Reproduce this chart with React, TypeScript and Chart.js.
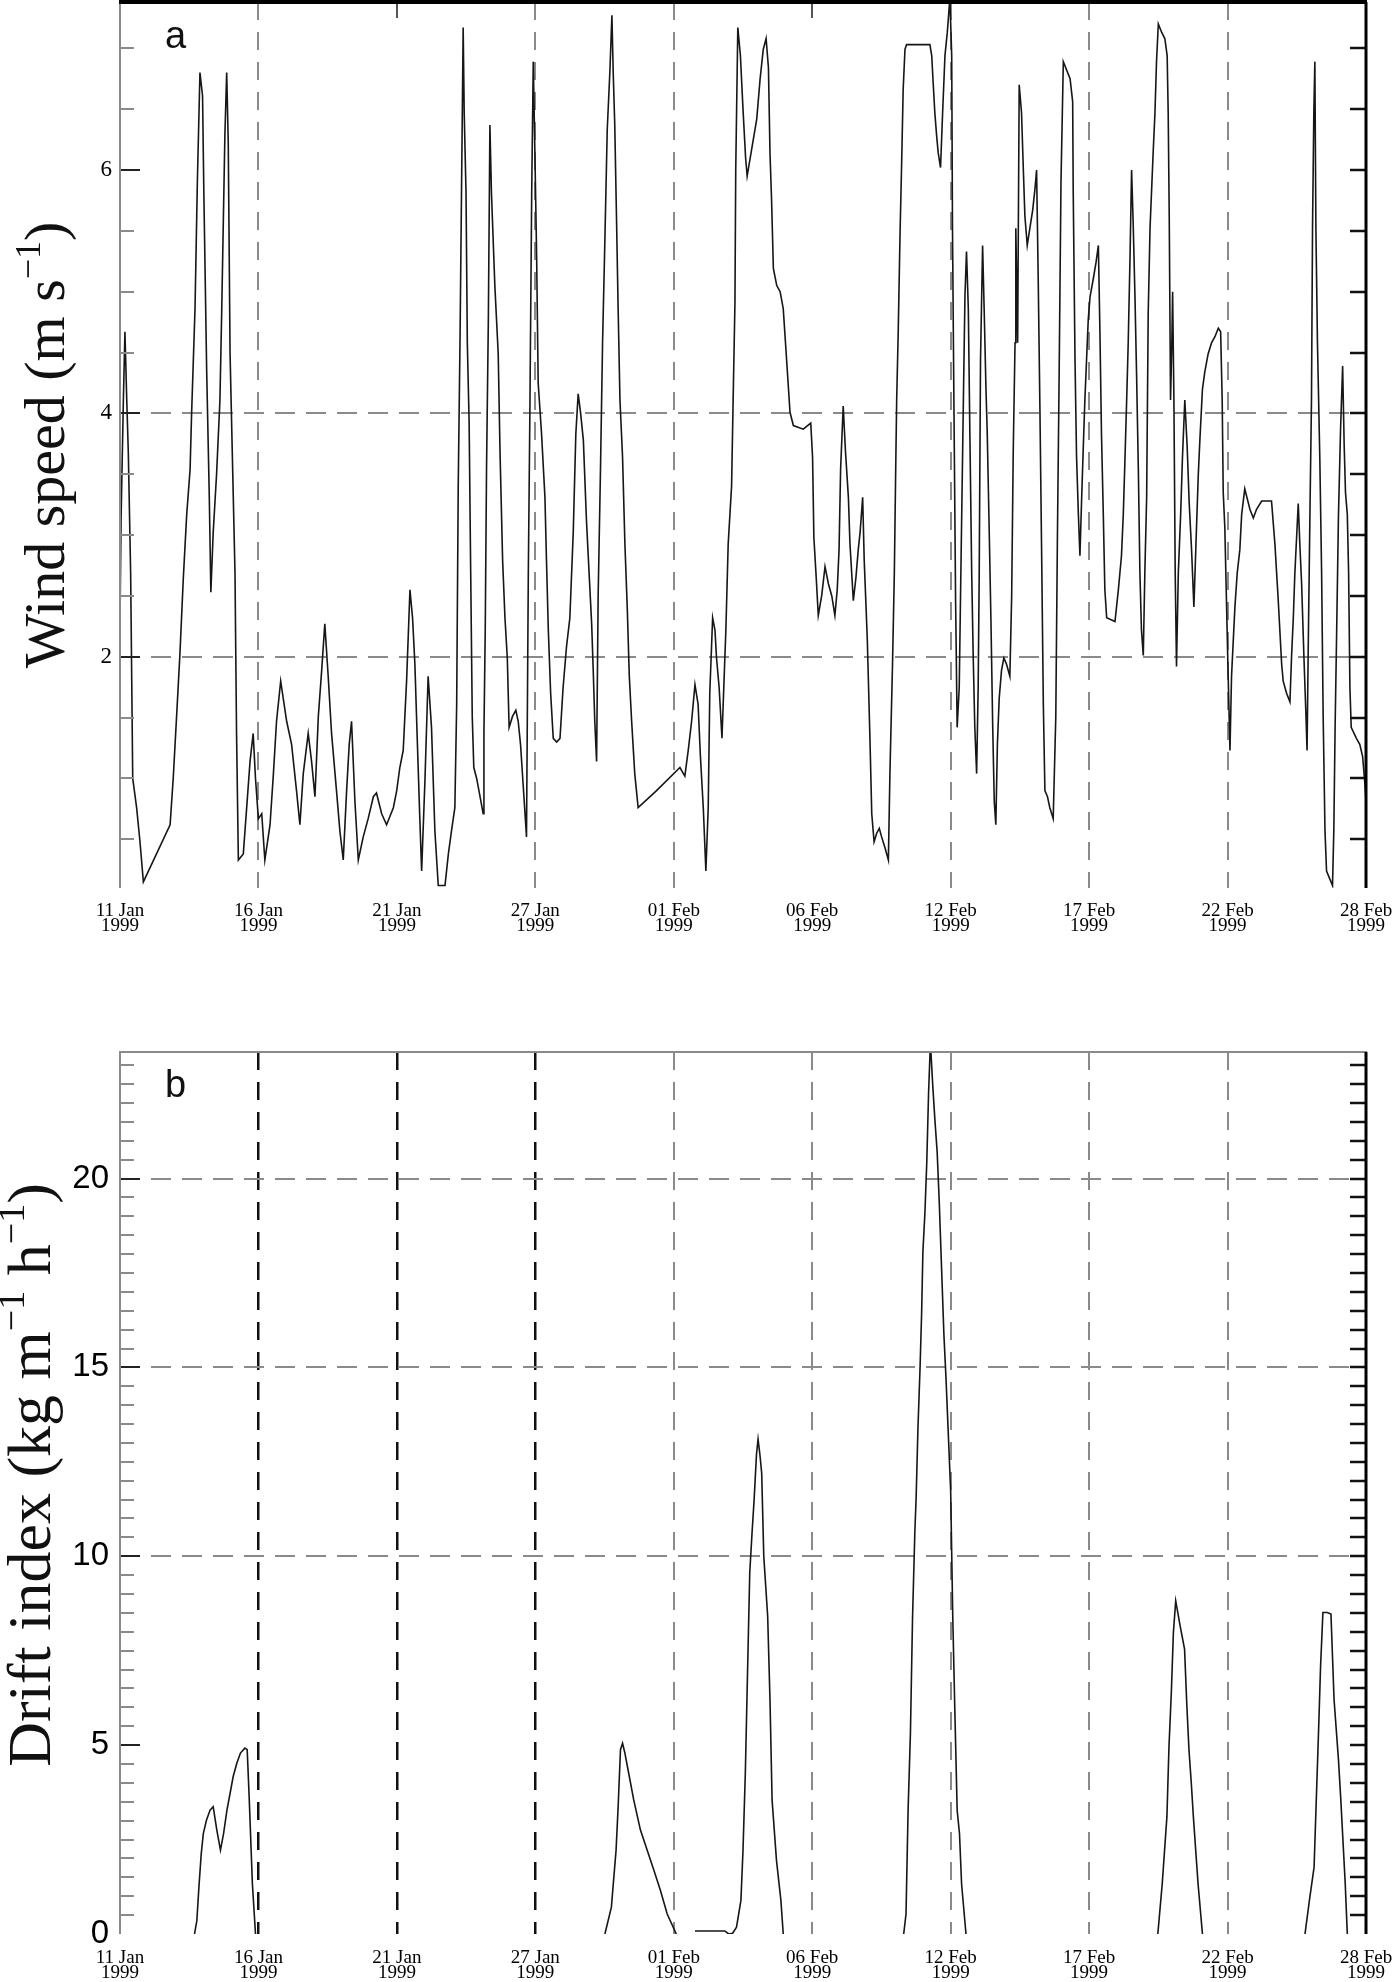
import React, { useEffect, useRef } from 'react';
import { Chart, registerables } from 'chart.js';

Chart.register(...registerables);

// ---------- x axis: days after 11 Jan 1999 00:00 (to 28 Feb 1999) ----------
const xTickDays = [0, 5.333, 10.667, 16, 21.333, 26.667, 32, 37.333, 42.667, 48];
const xTickDates = ['11 Jan', '16 Jan', '21 Jan', '27 Jan', '01 Feb', '06 Feb', '12 Feb', '17 Feb', '22 Feb', '28 Feb'];
const xTickYear = '1999';

// ---------- panel a: wind speed (m s-1) ----------
const windDays = [
  0.00, 0.04, 0.13, 0.19, 0.26, 0.32, 0.41, 0.49, 0.64, 0.77, 0.90, 1.93, 2.05, 2.18, 2.31, 2.44, 2.57, 2.70, 2.76, 2.89,
  2.98, 3.08, 3.18, 3.23, 3.34, 3.44, 3.50, 3.59, 3.72, 3.85, 3.92, 4.04, 4.11, 4.17, 4.24, 4.34, 4.43, 4.49, 4.56, 4.75,
  4.88, 5.01, 5.13, 5.22, 5.33, 5.46, 5.58, 5.78, 5.91, 6.03, 6.19, 6.42, 6.61, 6.80, 6.93, 7.06, 7.25, 7.38, 7.51, 7.64,
  7.77, 7.89, 8.02, 8.15, 8.34, 8.47, 8.60, 8.73, 8.83, 8.92, 9.05, 9.18, 9.37, 9.56, 9.76, 9.88, 10.08, 10.27, 10.53, 10.66,
  10.78, 10.91, 11.04, 11.17, 11.27, 11.36, 11.45, 11.55, 11.62, 11.75, 11.87, 12.00, 12.13, 12.26,
  12.52, 12.65, 12.77, 12.90, 12.97, 13.03, 13.10, 13.16, 13.22, 13.26, 13.33, 13.38, 13.45, 13.51, 13.57, 13.63, 13.74, 13.87, 13.99, 14.02,
  14.07, 14.12, 14.19, 14.25, 14.31, 14.44, 14.57, 14.64, 14.74, 14.83, 14.92, 14.99, 15.12, 15.25, 15.34, 15.43, 15.53, 15.66, 15.73, 15.79,
  15.86, 15.92, 15.98, 16.05, 16.11, 16.24, 16.37, 16.43, 16.50, 16.59, 16.69, 16.82, 16.95, 17.07, 17.20, 17.33, 17.46, 17.56, 17.65, 17.74,
  17.85, 17.97, 18.08, 18.17, 18.23, 18.29, 18.36, 18.42, 18.51, 18.59, 18.68, 18.77, 18.87, 18.95, 19.00, 19.06, 19.13, 19.19, 19.26, 19.36,
  19.45, 19.54, 19.62, 19.71, 19.83, 19.96, 20.67, 21.57, 21.76, 21.89, 22.02, 22.15, 22.27, 22.36, 22.47, 22.57, 22.66, 22.72, 22.83, 22.92,
  22.98, 23.08, 23.19, 23.26, 23.34, 23.43, 23.56, 23.62, 23.69, 23.72, 23.80, 23.90, 24.00, 24.10, 24.16,
  24.53, 24.66, 24.78, 24.89, 24.98, 25.04, 25.10, 25.17, 25.30, 25.43, 25.55, 25.68, 25.81, 25.94, 26.32, 26.61, 26.68, 26.73, 26.81, 26.90,
  27.03, 27.16, 27.29, 27.42, 27.54, 27.63, 27.70, 27.76, 27.86, 27.95, 28.06, 28.12, 28.25, 28.35, 28.44, 28.51, 28.61, 28.67, 28.74, 28.79,
  28.89, 28.96, 29.05, 29.15, 29.25, 29.34, 29.47, 29.60, 29.66, 29.76, 29.83, 29.88, 29.92, 29.98, 30.05, 30.11, 30.17, 30.24, 30.30, 31.20,
  31.27, 31.33, 31.39, 31.46, 31.52, 31.61, 31.69, 31.78, 31.87, 31.97, 32.04, 32.07, 32.13, 32.19, 32.25, 32.33, 32.38, 32.49, 32.55, 32.61,
  32.68, 32.74, 32.81, 32.87, 32.93, 33.00, 33.06, 33.10, 33.15, 33.23, 33.29, 33.36, 33.41, 33.49, 33.55, 33.62, 33.68, 33.74, 33.80, 33.87,
  33.96, 34.05, 34.15, 34.28, 34.35, 34.41, 34.48, 34.51, 34.58, 34.64, 34.73, 34.80, 34.86, 34.95, 35.05, 35.16, 35.25, 35.31, 35.37, 35.44,
  35.50, 35.57, 35.63, 35.73, 35.82, 35.95, 36.05, 36.11, 36.18, 36.25, 36.34,
  36.60, 36.70, 36.72, 36.79, 36.85, 36.92, 36.98, 37.04, 37.11, 37.17, 37.30, 37.37, 37.49, 37.60, 37.69, 37.75, 37.81, 37.88, 37.94, 38.01,
  38.33, 38.46, 38.58, 38.65, 38.71, 38.78, 38.84, 38.91, 38.97, 39.03, 39.10, 39.16, 39.23, 39.29, 39.35, 39.42, 39.48, 39.55, 39.61, 39.68,
  39.80, 39.87, 39.93, 40.00, 40.13, 40.25, 40.34, 40.38, 40.42, 40.47, 40.52, 40.55, 40.60, 40.65, 40.70, 40.77, 40.86, 40.93, 41.02, 41.11,
  41.19, 41.28, 41.37, 41.45, 41.54, 41.60, 41.70, 41.79, 41.92, 42.05, 42.18, 42.31, 42.40, 42.46, 42.50, 42.56, 42.63, 42.69, 42.76, 42.82,
  42.95, 43.04, 43.14, 43.21, 43.33, 43.53, 43.66, 43.78, 43.98, 44.36, 44.49, 44.62, 44.75, 44.81, 44.94, 45.07, 45.13, 45.20, 45.26, 45.39,
  45.45, 45.52, 45.61, 45.68, 45.73, 45.77, 45.84, 45.90, 45.94, 45.99, 46.03, 46.07, 46.13, 46.22, 46.29, 46.35, 46.42, 46.48, 46.71, 46.76,
  46.81, 46.86, 46.94, 47.02, 47.10, 47.16, 47.21, 47.28, 47.33, 47.38, 47.43, 47.63, 47.76, 47.87, 47.96, 48.00,
];
const windSpeed = [
  2.27, 3.12, 4.11, 4.67, 4.11, 3.68, 2.69, 1.00, 0.76, 0.48, 0.15, 0.62, 1.00, 1.51, 2.03, 2.65, 3.17, 3.54, 4.01, 4.86,
  5.90, 6.80, 6.61, 5.81, 4.34, 3.31, 2.53, 3.02, 3.50, 4.11, 4.86, 6.28, 6.80, 6.23, 4.49, 3.54, 2.69, 1.37, 0.33, 0.38,
  0.76, 1.14, 1.37, 1.00, 0.67, 0.71, 0.33, 0.62, 1.04, 1.47, 1.80, 1.47, 1.28, 0.90, 0.62, 1.04, 1.37, 1.14, 0.85, 1.51,
  1.89, 2.27, 1.84, 1.37, 0.90, 0.57, 0.33, 0.90, 1.28, 1.47, 0.81, 0.33, 0.52, 0.67, 0.85, 0.88, 0.71, 0.62, 0.76, 0.90,
  1.09, 1.23, 1.80, 2.55, 2.32, 1.94, 1.33, 0.67, 0.24, 1.00, 1.84, 1.42, 0.57, 0.12,
  0.12, 0.38, 0.57, 0.76, 1.61, 3.40, 4.63, 5.90, 7.17, 6.47, 5.81, 4.58, 3.92, 2.69, 1.51, 1.09, 1.00, 0.85, 0.71, 1.37,
  2.22, 3.54, 4.77, 6.37, 5.81, 5.05, 4.49, 3.68, 2.79, 2.32, 1.99, 1.42, 1.51, 1.56, 1.47, 1.28, 0.95, 0.52, 2.69, 4.01,
  5.81, 6.89, 6.18, 5.29, 4.25, 3.83, 3.31, 2.79, 2.22, 1.70, 1.33, 1.30, 1.33, 1.75, 2.08, 2.32, 3.02, 3.83, 4.16, 4.01,
  3.78, 3.12, 2.65, 2.27, 1.89, 1.47, 1.14, 2.50, 3.54, 4.58, 5.43, 6.33, 6.80, 7.27, 6.80, 6.37, 5.57, 4.86, 4.11, 3.64,
  2.93, 2.41, 1.84, 1.47, 1.04, 0.76, 0.90, 1.09, 1.02, 1.23, 1.47, 1.77, 1.61, 1.18, 0.76, 0.24, 0.76, 1.70, 2.32, 2.22,
  1.99, 1.75, 1.33, 1.75, 2.22, 2.93, 3.40, 4.11, 4.91, 6.00, 7.17, 6.94, 6.50, 6.10, 5.95,
  6.42, 6.75, 6.99, 7.08, 6.84, 6.14, 5.76, 5.19, 5.05, 5.00, 4.86, 4.44, 4.01, 3.90, 3.87, 3.92, 3.64, 2.98, 2.69, 2.34,
  2.50, 2.74, 2.60, 2.50, 2.34, 2.55, 2.88, 3.54, 4.06, 3.68, 3.31, 2.93, 2.46, 2.65, 2.88, 3.02, 3.31, 2.79, 2.41, 2.13,
  1.33, 0.71, 0.48, 0.55, 0.59, 0.52, 0.43, 0.33, 1.04, 1.94, 2.69, 3.50, 4.11, 4.67, 5.48, 6.04, 6.66, 6.99, 7.03, 7.03,
  6.94, 6.70, 6.47, 6.28, 6.14, 6.02, 6.47, 6.94, 7.13, 7.41, 6.94, 5.52, 3.97, 2.46, 1.42, 1.75, 2.50, 4.11, 4.96, 5.33,
  4.86, 3.83, 2.69, 1.99, 1.42, 1.04, 1.75, 2.69, 4.44, 5.38, 4.86, 4.20, 3.83, 2.98, 2.32, 1.42, 0.81, 0.62, 1.28, 1.66,
  1.89, 1.99, 1.94, 1.84, 2.50, 3.68, 4.58, 5.52, 4.58, 6.70, 6.47, 6.00, 5.62, 5.38, 5.52, 5.67, 5.85, 6.00, 5.15, 4.01,
  2.93, 1.61, 0.90, 0.85, 0.76, 0.67, 1.51, 2.93, 4.34, 5.90, 6.89,
  6.75, 6.56, 5.85, 4.44, 3.64, 3.17, 2.83, 3.26, 3.73, 4.11, 4.77, 4.96, 5.10, 5.24, 5.38, 4.67, 3.83, 3.17, 2.55, 2.32,
  2.29, 2.55, 2.83, 3.17, 3.59, 4.11, 4.58, 5.29, 6.00, 5.57, 4.96, 4.34, 3.54, 2.69, 2.22, 2.01, 2.69, 3.31, 4.82, 5.52,
  6.14, 6.47, 6.89, 7.20, 7.13, 7.08, 6.94, 6.47, 5.62, 4.11, 4.58, 5.00, 4.11, 2.69, 1.92, 2.69, 3.17, 3.64, 4.11, 3.73,
  3.26, 2.88, 2.41, 2.93, 3.50, 3.78, 4.20, 4.34, 4.49, 4.58, 4.63, 4.70, 4.67, 4.11, 3.35, 3.07, 2.41, 1.84, 1.23, 1.84,
  2.41, 2.69, 2.88, 3.17, 3.38, 3.21, 3.14, 3.21, 3.28, 3.28, 2.93, 2.46, 1.94, 1.80, 1.70, 1.63, 1.99, 2.32, 2.69, 3.26,
  2.93, 2.60, 1.99, 1.56, 1.23, 1.99, 3.17, 4.11, 5.52, 6.47, 6.89, 5.52, 4.58, 3.64, 2.69, 1.51, 0.57, 0.24, 0.12, 0.57,
  1.42, 2.08, 3.17, 3.87, 4.39, 3.73, 3.35, 3.17, 2.69, 1.75, 1.42, 1.33, 1.28, 1.18, 0.95, 0.81,
];
const windTickValues = [0.5, 1, 1.5, 2, 2.5, 3, 3.5, 4, 4.5, 5, 5.5, 6, 6.5, 7];
const windTickLabels = [2, 4, 6];
const windGridValues = [2, 4];

// ---------- panel b: drift index (kg m-1 h-1); null = no drift ----------
const driftDays = [
  2.87, 2.96, 3.04, 3.13, 3.21, 3.33, 3.47, 3.59, 3.73, 3.87, 3.99, 4.12, 4.24, 4.36, 4.50, 4.64, 4.81, 4.90, 4.98, 5.10, 5.22, 12.0,
  18.68, 18.93, 19.11, 19.19, 19.28, 19.36, 19.45, 19.62, 19.79, 20.05, 20.31, 20.57, 20.82, 21.08, 21.43, 21.8,
  22.15, 23.30, 23.45, 23.60, 23.75, 23.92, 24.00, 24.09, 24.18, 24.26, 24.35, 24.43, 24.52, 24.58, 24.65, 24.72, 24.80, 24.95, 25.04, 25.12, 25.29, 25.46, 25.55, 28.0,
  30.19, 30.28, 30.36, 30.45, 30.53, 30.62, 30.67, 30.74, 30.82, 30.88, 30.93, 31.01, 31.08, 31.15, 31.22, 31.31, 31.39, 31.48, 31.56, 31.65, 31.74, 31.82, 31.91, 32.00, 32.08, 32.16, 32.25, 32.34, 32.42, 32.59, 36.0,
  39.98, 40.15, 40.33, 40.41, 40.50, 40.58, 40.67, 40.75, 40.84, 41.01, 41.10, 41.18, 41.27, 41.35, 41.53, 41.70, 43.5,
  45.65, 45.82, 46.00, 46.17, 46.25, 46.34, 46.51, 46.65, 46.77, 46.94, 47.03, 47.20, 47.28,
];
const driftIndex = [
  0, 0.35, 1.24, 2.13, 2.66, 3.01, 3.28, 3.37, 2.75, 2.22, 2.66, 3.28, 3.72, 4.17, 4.52, 4.79, 4.92, 4.88, 3.55, 1.33, 0, null,
  0, 0.71, 2.22, 3.37, 4.88, 5.05, 4.79, 4.17, 3.55, 2.75, 2.22, 1.68, 1.15, 0.53, 0, null,
  0.08, 0.08, 0, 0.02, 0.18, 0.89, 2.22, 4.26, 7.09, 9.57, 10.64, 11.52, 12.7, 13.1, 12.7, 12.2, 10.0, 8.42, 6.2, 3.55, 1.95, 0.89, 0, null,
  0, 0.53, 3.28, 5.32, 8.33, 10.64, 11.55, 13.4, 14.98, 16.4, 18.06, 19.12, 20.44, 22.29, 23.6, 22.46, 21.58, 20.7, 19.38, 17.62, 15.86, 14.72, 13.22, 11.73, 8.42, 5.94, 3.28, 2.66, 1.33, 0, null,
  0, 1.33, 3.10, 4.96, 6.38, 7.98, 8.82, 8.51, 8.16, 7.54, 6.03, 4.88, 3.99, 3.10, 1.33, 0, null,
  0, 0.89, 1.77, 5.32, 7.09, 8.51, 8.51, 8.47, 6.2, 4.61, 3.55, 1.33, 0,
];
const driftTickValues = [
  0, 0.5, 1, 1.5, 2, 2.5, 3, 3.5, 4, 4.5, 5, 5.5, 6, 6.5, 7, 7.5, 8, 8.5, 9, 9.5, 10, 10.5, 11, 11.5,
  12, 12.5, 13, 13.5, 14, 14.5, 15, 15.5, 16, 16.5, 17, 17.5, 18, 18.5, 19, 19.5, 20, 20.5, 21, 21.5, 22, 22.5, 23,
];
const driftTickLabels = [0, 5, 10, 15, 20];
const driftGridValues = [10, 15, 20];

// ---------- styling ----------
const NONE = 'rgba(0,0,0,0)';
const GRAY = '#8a8a8a';
const INK = '#111111';
const SERIF = '"Liberation Serif", "Times New Roman", serif';
const SANS = '"Liberation Sans", Arial, sans-serif';

type Part = { text: string; sup: boolean };
type Spec = {
  key: string;
  points: { x: number; y: number | null }[];
  yMin: number; yMax: number;
  tickValues: number[]; tickLabels: number[]; gridValues: number[];
  padTop: number; xAxisHeight: number; xLabelPad: number; yLabelPad: number;
  yFont: { family: string; size: number };
  xGridColor: string[]; xGridWidth: number[];
  topTickIdx: number[];
  topBorderColor: string; topBorderWidth: number;
  titleParts: Part[]; titleX: number; titleY: number; titleSize: number;
  letter: string; letterX: number; letterY: number;
};

function decor(p: Spec) {
  return {
    id: 'decor' + p.key,
    afterDraw(chart: any) {
      const { ctx, chartArea: a } = chart;
      const ys = chart.scales.y;
      const xs = chart.scales.x;
      const seg = (x1: number, y1: number, x2: number, y2: number) => {
        ctx.beginPath(); ctx.moveTo(x1, y1); ctx.lineTo(x2, y2); ctx.stroke();
      };
      ctx.save();
      ctx.setLineDash([]);
      // inward tick marks, left and right
      for (const v of p.tickValues) {
        if (v <= p.yMin || v >= p.yMax) continue;
        const py = Math.round(ys.getPixelForValue(v));
        const major = p.tickLabels.includes(v);
        ctx.strokeStyle = major ? '#222' : GRAY;
        ctx.lineWidth = 2;
        seg(a.left, py, a.left + (major ? 20 : 14), py);
        ctx.strokeStyle = INK;
        ctx.lineWidth = 2.5;
        seg(a.right - 16, py, a.right, py);
      }
      // short ticks at top where no vertical dashed line is drawn
      ctx.strokeStyle = '#555';
      ctx.lineWidth = 2;
      for (const i of p.topTickIdx) {
        const px = Math.round(xs.getPixelForValue(xTickDays[i]));
        seg(px, a.top, px, a.top + 16);
      }
      // frame: left grey, right black, top per panel (no bottom line)
      ctx.strokeStyle = GRAY; ctx.lineWidth = 2;
      seg(a.left, a.top, a.left, a.bottom);
      ctx.strokeStyle = p.topBorderColor; ctx.lineWidth = p.topBorderWidth;
      seg(a.left - 1, a.top, a.right + 1, a.top);
      ctx.strokeStyle = '#000'; ctx.lineWidth = 3;
      seg(a.right, a.top, a.right, a.bottom);
      // panel letter
      ctx.fillStyle = INK;
      ctx.font = `38px ${SANS}`;
      ctx.textAlign = 'left';
      ctx.textBaseline = 'alphabetic';
      ctx.fillText(p.letter, p.letterX, p.letterY);
      // rotated axis title with superscripts
      const big = `${p.titleSize}px ${SERIF}`;
      const small = `${Math.round(p.titleSize * 0.62)}px ${SERIF}`;
      ctx.translate(p.titleX, p.titleY);
      ctx.rotate(-Math.PI / 2);
      let total = 0;
      for (const part of p.titleParts) {
        ctx.font = part.sup ? small : big;
        total += ctx.measureText(part.text).width;
      }
      let x = -total / 2;
      for (const part of p.titleParts) {
        ctx.font = part.sup ? small : big;
        ctx.fillText(part.text, x, part.sup ? -p.titleSize * 0.42 : 0);
        x += ctx.measureText(part.text).width;
      }
      ctx.restore();
    },
  };
}

function buildConfig(p: Spec): any {
  return {
    type: 'line',
    data: {
      datasets: [{
        data: p.points,
        borderColor: '#161616',
        borderWidth: 1.6,
        pointRadius: 0,
        tension: 0,
        spanGaps: false,
        fill: false,
      }],
    },
    options: {
      animation: false,
      responsive: false,
      maintainAspectRatio: false,
      events: [],
      layout: { padding: { left: 0, right: 34, top: p.padTop, bottom: 0 } },
      plugins: { legend: { display: false }, tooltip: { enabled: false }, title: { display: false } },
      scales: {
        x: {
          type: 'linear',
          min: 0,
          max: 48,
          afterBuildTicks: (s: any) => { s.ticks = xTickDays.map((v) => ({ value: v })); },
          afterFit: (s: any) => { s.height = p.xAxisHeight; s.paddingLeft = 0; s.paddingRight = 0; },
          ticks: {
            autoSkip: false,
            maxRotation: 0,
            minRotation: 0,
            padding: p.xLabelPad,
            color: '#000',
            font: { family: SERIF, size: 19, lineHeight: 0.82 },
            callback: (_v: any, i: number) => [xTickDates[i], xTickYear],
          },
          grid: {
            drawTicks: false,
            color: (c: any) => p.xGridColor[c.index] ?? NONE,
            lineWidth: (c: any) => p.xGridWidth[c.index] ?? 1,
          },
          border: { display: false, dash: [18, 12] },
        },
        y: {
          type: 'linear',
          min: p.yMin,
          max: p.yMax,
          afterBuildTicks: (s: any) => { s.ticks = p.tickValues.map((v) => ({ value: v })); },
          afterFit: (s: any) => { s.width = 120; s.paddingTop = 0; s.paddingBottom = 0; },
          ticks: {
            autoSkip: false,
            padding: p.yLabelPad,
            color: '#000',
            font: p.yFont,
            callback: (v: any) => (p.tickLabels.includes(v) ? String(v) : ''),
          },
          grid: {
            drawTicks: false,
            color: (c: any) => (c.tick && p.gridValues.includes(c.tick.value) ? GRAY : NONE),
            lineWidth: 2,
          },
          border: { display: false, dash: [20, 11] },
        },
      },
    },
    plugins: [decor(p)],
  };
}

const windSpec: Spec = {
  key: 'a',
  points: windDays.map((d, i) => ({ x: d, y: windSpeed[i] })),
  yMin: 0.1, yMax: 7.38,
  tickValues: windTickValues, tickLabels: windTickLabels, gridValues: windGridValues,
  padTop: 2, xAxisHeight: 57, xLabelPad: 15, yLabelPad: 8,
  yFont: { family: SERIF, size: 23 },
  xGridColor: [NONE, GRAY, NONE, GRAY, GRAY, NONE, GRAY, GRAY, GRAY, NONE],
  xGridWidth: [1, 2, 1, 2, 2, 1, 2, 2, 2, 1],
  topTickIdx: [2, 5],
  topBorderColor: '#000', topBorderWidth: 4,
  titleParts: [{ text: 'Wind speed (m s', sup: false }, { text: '\u22121', sup: true }, { text: ')', sup: false }],
  titleX: 64, titleY: 445, titleSize: 58,
  letter: 'a', letterX: 165, letterY: 48,
};

const driftSpec: Spec = {
  key: 'b',
  points: driftDays.map((d, i) => ({ x: d, y: driftIndex[i] })),
  yMin: 0, yMax: 23.35,
  tickValues: driftTickValues, tickLabels: driftTickLabels, gridValues: driftGridValues,
  padTop: 52, xAxisHeight: 48, xLabelPad: 16, yLabelPad: 11,
  yFont: { family: SANS, size: 33 },
  xGridColor: [NONE, INK, INK, INK, GRAY, GRAY, GRAY, GRAY, GRAY, NONE],
  xGridWidth: [1, 2.5, 2.5, 2.5, 2, 2, 2, 2, 2, 1],
  topTickIdx: [],
  topBorderColor: GRAY, topBorderWidth: 2,
  titleParts: [
    { text: 'Drift index (kg m', sup: false }, { text: '\u22121', sup: true },
    { text: ' h', sup: false }, { text: '\u22121', sup: true }, { text: ')', sup: false },
  ],
  titleX: 50, titleY: 475, titleSize: 62,
  letter: 'b', letterX: 165, letterY: 97,
};

function Panel({ spec, top, height }: { spec: Spec; top: number; height: number }) {
  const ref = useRef<HTMLCanvasElement>(null);
  useEffect(() => {
    const chart = new Chart(ref.current as HTMLCanvasElement, buildConfig(spec));
    return () => chart.destroy();
  }, [spec]);
  return (
    <canvas
      ref={ref}
      width={1400}
      height={height}
      style={{ position: 'absolute', left: 0, top, width: 1400, height, display: 'block' }}
    />
  );
}

export default function App() {
  return (
    <div style={{ position: 'absolute', left: 0, top: 0, width: 1400, height: 1982, background: '#ffffff', overflow: 'hidden' }}>
      <Panel spec={windSpec} top={0} height={945} />
      <Panel spec={driftSpec} top={1000} height={982} />
    </div>
  );
}
